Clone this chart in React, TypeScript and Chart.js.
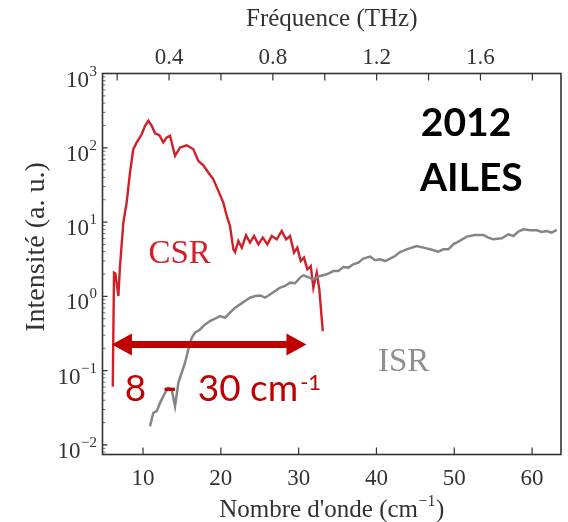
import React, { useEffect, useRef } from "react";
import { Chart, registerables } from "chart.js";

Chart.register(...registerables);

// ---------- axis ranges & ticks ----------
const WAVENUMBER_MIN = 4.79;
const WAVENUMBER_MAX = 63.72;
const CM_PER_THZ = 33.356;
const Y_MIN = 0.00744;
const Y_MAX = 1000;
const BOTTOM_TICKS = [10, 20, 30, 40, 50, 60];
const TOP_TICKS_LABELED = [0.4, 0.8, 1.2, 1.6];
const TOP_TICKS_ALL = [0.2, 0.4, 0.6, 0.8, 1.0, 1.2, 1.4, 1.6, 1.8];
const Y_EXPONENTS = [-2, -1, 0, 1, 2, 3];

// ---------- CSR (red) ----------
const csrWavenumber = [
  6.11, 6.27, 6.44, 6.83, 7.04, 7.47, 7.9, 8.33, 8.75, 9.19, 9.83, 10.26, 10.68, 11.12,
  11.54, 12.1, 12.61, 13.05, 13.47, 14.11, 14.76, 15.62, 16.47, 17.11, 17.75, 18.39,
  19.04, 19.68, 20.32, 20.76, 21.18, 21.61, 21.83, 22.25, 22.69, 23.24, 23.75, 24.27,
  24.82, 25.39, 25.98, 26.54, 27.19, 27.83, 28.38, 28.89, 29.41, 29.83, 30.27, 30.69,
  31.12, 31.56, 31.89, 32.33, 32.66, 33.1,
];
const csrIntensity = [
  0.061, 2.09, 2.04, 1.01, 2.56, 9.85, 18.5, 46.9, 95.7, 118, 152, 197, 231, 197,
  157, 148, 118, 138, 145, 77.8, 101, 108, 95.7, 66.6, 58.2, 46.5,
  37.7, 26.3, 18.3, 12.1, 8.86, 4.3, 3.95, 5.56, 4.53, 6.64, 5.29, 6.5,
  5.02, 6.18, 5.02, 6.5, 5.86, 7.59, 5.86, 6.5, 3.88, 4.53, 2.99, 3.32,
  2.31, 2.56, 1.31, 2.09, 1.24, 0.34,
];

// ---------- ISR (grey) ----------
const isrWavenumber = [
  10.9, 11.32, 11.76, 12.19, 12.83, 13.25, 13.69, 14.11, 14.54, 14.97, 15.4, 15.82,
  16.26, 16.68, 17.33, 17.97, 18.61, 19.25, 19.9, 20.54, 21.18, 21.83, 22.47, 23.11,
  23.75, 24.4, 25.04, 25.68, 26.32, 26.97, 27.61, 28.25, 28.89, 29.54, 30.18, 30.6,
  31.04, 31.9, 32.75, 33.61, 34.46, 35.1, 35.75, 36.39, 37.03, 37.67, 38.32, 39.18,
  39.82, 40.46, 41.11, 41.75, 42.39, 43.03, 43.89, 44.54, 45.18, 46.03, 46.89, 47.96,
  48.6, 49.24, 49.88, 50.53, 51.61, 52.67, 53.74, 54.38, 55.03, 56.11, 56.95, 57.6,
  58.24, 58.88, 59.74, 60.6, 61.25, 61.89, 62.53, 63.17,
];
const isrIntensity = [
  0.0179, 0.0271, 0.0285, 0.0369, 0.0504, 0.0588, 0.0558, 0.0332, 0.0687, 0.0937, 0.128, 0.193,
  0.278, 0.324, 0.359, 0.419, 0.465, 0.5, 0.543, 0.516, 0.603, 0.704, 0.78, 0.865,
  0.96, 1.01, 1.03, 0.96, 1.06, 1.18, 1.31, 1.38, 1.53, 1.5, 1.79, 1.92,
  1.84, 1.69, 1.88, 1.98, 2.19, 2.19, 2.48, 2.44, 2.7, 2.84, 3.22, 3.43,
  3.06, 3.15, 2.99, 3.22, 3.49, 3.95, 4.3, 4.53, 4.76, 4.53, 4.3, 4.0,
  4.3, 4.3, 5.02, 5.46, 6.38, 6.7, 6.7, 6.18, 5.86, 6.05, 6.85, 6.5,
  7.45, 8.0, 7.75, 7.75, 7.36, 7.59, 7.22, 7.83,
];

// ---------- annotations (data coordinates) ----------
const ARROW_FROM = 6.0;
const ARROW_TO = 31.0;
const ARROW_LEVEL = 0.2256;
const RANGE_LABEL = ["8", "-", "30 cm", "-1"];
const RANGE_LABEL_AT = { x: 7.9, y: 0.0388 };
const CSR_LABEL_AT = { x: 10.7, y: 2.85 };
const ISR_LABEL_AT = { x: 40.2, y: 0.0975 };
const YEAR_LABEL_AT = { x: 45.7, y: 144 };
const FACILITY_LABEL_AT = { x: 45.6, y: 26.3 };

const SERIF = "'Liberation Serif', 'Times New Roman', serif";
const SANS = "Lato, 'Liberation Sans', sans-serif";
const AXIS_TEXT = "#333333";
const CSR_COLOR = "#d0202a";
const ISR_COLOR = "#858585";
const ARROW_COLOR = "#c00000";

const decorPlugin = {
  id: "decor",
  afterDatasetsDraw(chart: any) {
    const { ctx, scales } = chart;
    const xs = scales.x;
    const ys = scales.y;
    const px = (v: number) => xs.getPixelForValue(v);
    const py = (v: number) => ys.getPixelForValue(v);
    ctx.save();
    ctx.textBaseline = "alphabetic";
    ctx.textAlign = "left";

    // CSR / ISR labels
    ctx.font = `33px ${SERIF}`;
    ctx.fillStyle = CSR_COLOR;
    ctx.fillText("CSR", px(CSR_LABEL_AT.x), py(CSR_LABEL_AT.y));
    ctx.fillStyle = "#8f8f8f";
    ctx.fillText("ISR", px(ISR_LABEL_AT.x), py(ISR_LABEL_AT.y));

    // 2012 / AILES
    ctx.font = `bold 39px ${SANS}`;
    ctx.fillStyle = "#000000";
    ctx.fillText("2012", px(YEAR_LABEL_AT.x), py(YEAR_LABEL_AT.y));
    ctx.fillText("AILES", px(FACILITY_LABEL_AT.x), py(FACILITY_LABEL_AT.y));

    // double arrow
    const ax0 = px(ARROW_FROM);
    const ax1 = px(ARROW_TO);
    const ay = py(ARROW_LEVEL);
    const headL = 20;
    const headH = 11;
    ctx.fillStyle = ARROW_COLOR;
    ctx.strokeStyle = ARROW_COLOR;
    ctx.lineWidth = 7;
    ctx.beginPath();
    ctx.moveTo(ax0 + headL - 2, ay);
    ctx.lineTo(ax1 - headL + 2, ay);
    ctx.stroke();
    ctx.beginPath();
    ctx.moveTo(ax0, ay);
    ctx.lineTo(ax0 + headL, ay - headH);
    ctx.lineTo(ax0 + headL, ay + headH);
    ctx.closePath();
    ctx.fill();
    ctx.beginPath();
    ctx.moveTo(ax1, ay);
    ctx.lineTo(ax1 - headL, ay - headH);
    ctx.lineTo(ax1 - headL, ay + headH);
    ctx.closePath();
    ctx.fill();

    // "8 - 30 cm-1"
    const rx = px(RANGE_LABEL_AT.x);
    const ry = py(RANGE_LABEL_AT.y);
    ctx.font = `37px ${SANS}`;
    ctx.fillText(RANGE_LABEL[0], rx - 2, ry);
    ctx.fillText(RANGE_LABEL[2], rx + 71, ry);
    const w = ctx.measureText(RANGE_LABEL[2]).width;
    ctx.font = `42px 'Liberation Sans', sans-serif`;
    ctx.fillText(RANGE_LABEL[1], rx + 36, ry);
    ctx.font = `22px ${SANS}`;
    ctx.fillText(RANGE_LABEL[3], rx + 71 + w + 2, ry - 11);
    ctx.restore();
  },
  afterDraw(chart: any) {
    const { ctx, chartArea: a, scales } = chart;
    const xs = scales.x;
    const xt = scales.xTop;
    const ys = scales.y;
    ctx.save();
    // frame
    ctx.strokeStyle = "#333333";
    ctx.lineWidth = 1.6;
    ctx.strokeRect(a.left, a.top, a.right - a.left, a.bottom - a.top);
    // major ticks (inward)
    ctx.lineWidth = 1.2;
    ctx.beginPath();
    BOTTOM_TICKS.forEach((v) => {
      const p = xs.getPixelForValue(v);
      ctx.moveTo(p, a.bottom);
      ctx.lineTo(p, a.bottom - 7);
    });
    TOP_TICKS_ALL.forEach((v) => {
      const p = xt.getPixelForValue(v);
      ctx.moveTo(p, a.top);
      ctx.lineTo(p, a.top + 7);
    });
    Y_EXPONENTS.forEach((e) => {
      const p = ys.getPixelForValue(Math.pow(10, e));
      ctx.moveTo(a.left, p);
      ctx.lineTo(a.left + 5, p);
    });
    ctx.stroke();
    // minor log ticks
    ctx.lineWidth = 0.7;
    ctx.beginPath();
    for (let e = -3; e < 3; e++) {
      for (let m = 2; m <= 9; m++) {
        const v = m * Math.pow(10, e);
        if (v <= Y_MIN || v >= Y_MAX) continue;
        const p = ys.getPixelForValue(v);
        ctx.moveTo(a.left, p);
        ctx.lineTo(a.left + 3, p);
      }
    }
    ctx.stroke();

    // y tick labels 10^n
    ctx.fillStyle = AXIS_TEXT;
    ctx.textAlign = "right";
    ctx.textBaseline = "alphabetic";
    const labelRight = a.left - 5.5;
    Y_EXPONENTS.forEach((e) => {
      const p = ys.getPixelForValue(Math.pow(10, e));
      const exp = e < 0 ? "\u2212" + Math.abs(e) : String(e);
      ctx.font = `15px ${SERIF}`;
      const ew = ctx.measureText(exp).width;
      ctx.fillText(exp, labelRight, p + 2);
      ctx.font = `23px ${SERIF}`;
      ctx.fillText("10", labelRight - ew - 0.5, p + 13);
    });

    // y title
    ctx.save();
    ctx.translate(37, 247);
    ctx.rotate(-Math.PI / 2);
    ctx.textAlign = "center";
    ctx.textBaseline = "middle";
    ctx.font = `28px ${SERIF}`;
    ctx.fillText("Intensité (a. u.)", 0, 0);
    ctx.restore();

    // top title
    ctx.textAlign = "center";
    ctx.textBaseline = "middle";
    ctx.font = `25px ${SERIF}`;
    ctx.fillText("Fréquence (THz)", (a.left + a.right) / 2, 19);

    // bottom title with superscript
    ctx.textAlign = "left";
    ctx.textBaseline = "alphabetic";
    const t1 = "Nombre d'onde (cm";
    const t2 = "\u22121";
    const t3 = ")";
    ctx.font = `25px ${SERIF}`;
    const w1 = ctx.measureText(t1).width;
    const w3 = ctx.measureText(t3).width;
    ctx.font = `16px ${SERIF}`;
    const w2 = ctx.measureText(t2).width;
    const total = w1 + w2 + w3 + 1;
    const x0 = (a.left + a.right) / 2 - total / 2;
    const base = 517;
    ctx.font = `25px ${SERIF}`;
    ctx.fillText(t1, x0, base);
    ctx.fillText(t3, x0 + w1 + w2 + 1, base);
    ctx.font = `16px ${SERIF}`;
    ctx.fillText(t2, x0 + w1 + 0.5, base - 11);
    ctx.restore();
  },
};

export default function App() {
  const canvasRef = useRef<HTMLCanvasElement | null>(null);

  useEffect(() => {
    if (!canvasRef.current) return;
    const csr = csrWavenumber.map((x, i) => ({ x, y: csrIntensity[i] }));
    const isr = isrWavenumber.map((x, i) => ({ x, y: isrIntensity[i] }));
    const tickFont = { family: SERIF, size: 23, lineHeight: 1 };
    const chart = new Chart(canvasRef.current, {
      type: "line",
      data: {
        datasets: [
          {
            label: "ISR",
            data: isr,
            borderColor: ISR_COLOR,
            borderWidth: 2.5,
            pointRadius: 0,
            tension: 0,
            xAxisID: "x",
            yAxisID: "y",
          },
          {
            label: "CSR",
            data: csr,
            borderColor: CSR_COLOR,
            borderWidth: 2.4,
            pointRadius: 0,
            tension: 0,
            xAxisID: "x",
            yAxisID: "y",
          },
        ],
      },
      options: {
        responsive: false,
        animation: false,
        events: [],
        layout: { padding: { left: 0, right: 7, top: 0, bottom: 0 } },
        plugins: { legend: { display: false }, tooltip: { enabled: false } },
        scales: {
          x: {
            type: "linear",
            position: "bottom",
            min: WAVENUMBER_MIN,
            max: WAVENUMBER_MAX,
            grid: { display: false, drawTicks: false },
            border: { display: false },
            ticks: {
              font: tickFont,
              color: AXIS_TEXT,
              padding: 13,
              maxRotation: 0,
              autoSkip: false,
            },
            afterBuildTicks: (s: any) => {
              s.ticks = BOTTOM_TICKS.map((v) => ({ value: v }));
            },
            afterFit: (s: any) => {
              s.height = 67.5;
            },
          },
          xTop: {
            type: "linear",
            position: "top",
            min: WAVENUMBER_MIN / CM_PER_THZ,
            max: WAVENUMBER_MAX / CM_PER_THZ,
            grid: { display: false, drawTicks: false },
            border: { display: false },
            ticks: {
              font: tickFont,
              color: AXIS_TEXT,
              padding: 4,
              maxRotation: 0,
              autoSkip: false,
              callback: (v: any) => Number(v).toFixed(1),
            },
            afterBuildTicks: (s: any) => {
              s.ticks = TOP_TICKS_LABELED.map((v) => ({ value: v }));
            },
            afterFit: (s: any) => {
              s.height = 73.5;
            },
          },
          y: {
            type: "logarithmic",
            position: "left",
            min: Y_MIN,
            max: Y_MAX,
            grid: { display: false, drawTicks: false },
            border: { display: false },
            ticks: { display: false },
            afterBuildTicks: (s: any) => {
              s.ticks = Y_EXPONENTS.map((e) => ({ value: Math.pow(10, e) }));
            },
            afterFit: (s: any) => {
              s.width = 102.5;
            },
          },
        },
      },
      plugins: [decorPlugin],
    } as any);
    return () => chart.destroy();
  }, []);

  return (
    <div style={{ position: "absolute", left: 0, top: 0, width: 568, height: 522, background: "#ffffff" }}>
      <canvas ref={canvasRef} width={568} height={522} style={{ display: "block" }} />
    </div>
  );
}
